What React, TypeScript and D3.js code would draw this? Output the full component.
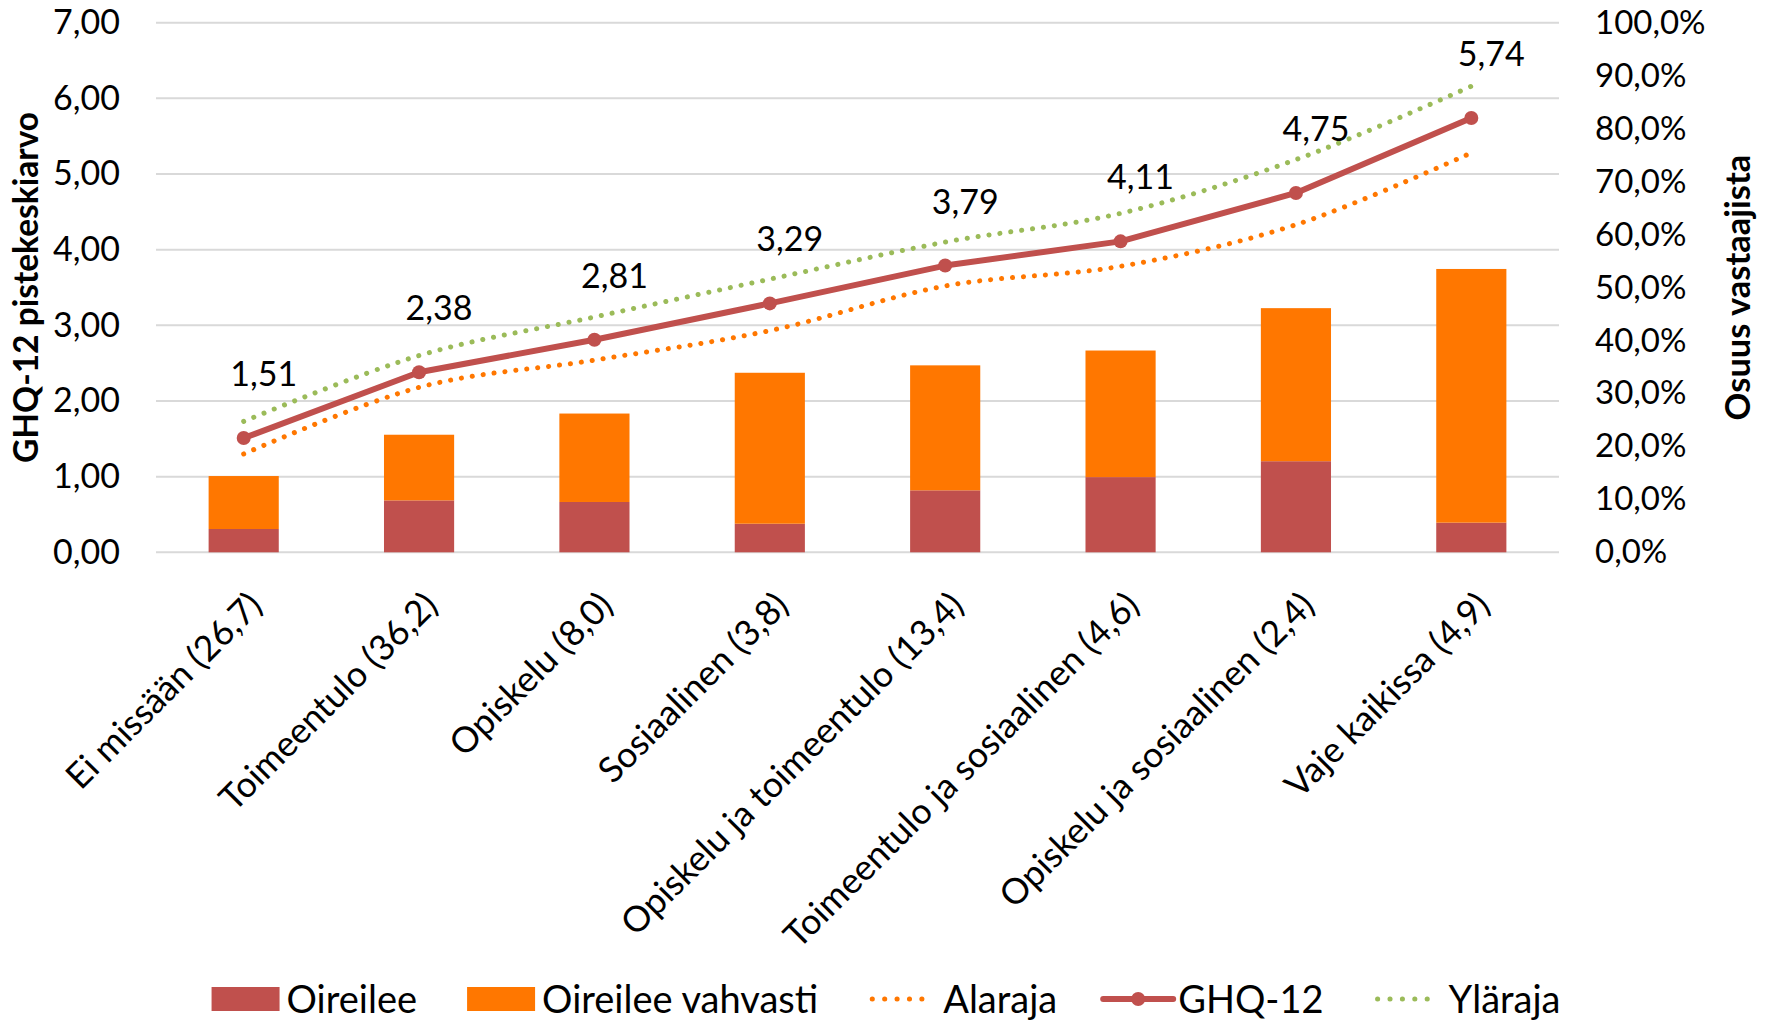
import React, { useRef, useEffect } from "react";
import * as d3 from "d3";

const categories = [
  "Ei missään (26,7)",
  "Toimeentulo (36,2)",
  "Opiskelu (8,0)",
  "Sosiaalinen (3,8)",
  "Opiskelu ja toimeentulo (13,4)",
  "Toimeentulo ja sosiaalinen (4,6)",
  "Opiskelu ja sosiaalinen (2,4)",
  "Vaje kaikissa (4,9)",
];
// osuudet (%) oikealla akselilla
const oireilee = [4.4, 9.8, 9.5, 5.4, 11.7, 14.2, 17.2, 5.6];
const oireileeVahvasti = [10.0, 12.4, 16.7, 28.5, 23.6, 23.9, 28.9, 47.9];
// pistekeskiarvot vasemmalla akselilla
const ghq12 = [1.51, 2.38, 2.81, 3.29, 3.79, 4.11, 4.75, 5.74];
const alaraja = [1.3, 2.18, 2.54, 2.93, 3.52, 3.78, 4.33, 5.28];
const ylaraja = [1.73, 2.6, 3.11, 3.61, 4.1, 4.48, 5.19, 6.16];
const leftTicks = [0, 1, 2, 3, 4, 5, 6, 7];
const rightTicks = [0, 10, 20, 30, 40, 50, 60, 70, 80, 90, 100];

const RED = "#C0504D";
const ORANGE = "#FF7700";
const GREEN = "#9BBB59";
const FONT = "Lato, 'Open Sans', sans-serif";

const fmt2 = (v) => v.toFixed(2).replace(".", ",");
const fmtPct = (v) => v.toFixed(1).replace(".", ",") + "%";

function App() {
  const ref = useRef(null);

  useEffect(() => {
    document.body.style.margin = "0";
    const width = 1771;
    const height = 1021;
    const left = 156;
    const right = 1559;
    const top = 22.7;
    const bottom = 552.3;

    const svg = d3.select(ref.current);
    svg.selectAll("*").remove();
    svg.attr("width", width).attr("height", height).style("font-family", FONT).style("display", "block");

    const x = d3
      .scaleBand()
      .domain(categories)
      .range([left, right])
      .paddingInner(0.6)
      .paddingOuter(0.3);
    const cx = (c) => x(c) + x.bandwidth() / 2;
    const yL = d3.scaleLinear().domain([0, 7]).range([bottom, top]);
    const yR = d3.scaleLinear().domain([0, 100]).range([bottom, top]);

    // ruudukko
    svg
      .append("g")
      .selectAll("line")
      .data(leftTicks)
      .enter()
      .append("line")
      .attr("x1", left)
      .attr("x2", right)
      .attr("y1", (d) => yL(d))
      .attr("y2", (d) => yL(d))
      .attr("stroke", "#D9D9D9")
      .attr("stroke-width", 2);

    // vasen akseli
    const gL = svg
      .append("g")
      .attr("transform", `translate(${left},0)`)
      .call(d3.axisLeft(yL).tickValues(leftTicks).tickSize(0).tickPadding(36).tickFormat(fmt2));
    gL.select(".domain").remove();
    gL.selectAll("text").style("font-size", "34px").style("font-family", FONT).attr("fill", "#000");

    // oikea akseli
    const gR = svg
      .append("g")
      .attr("transform", `translate(${right},0)`)
      .call(d3.axisRight(yR).tickValues(rightTicks).tickSize(0).tickPadding(36).tickFormat(fmtPct));
    gR.select(".domain").remove();
    gR.selectAll("text").style("font-size", "33px").style("font-family", FONT).attr("fill", "#000");

    // pinotut pylväät
    const rows = categories.map((c, i) => ({ c, a: oireilee[i], b: oireileeVahvasti[i] }));
    const stack = d3.stack().keys(["a", "b"])(rows);
    const colors = [RED, ORANGE];
    stack.forEach((layer, k) => {
      svg
        .append("g")
        .selectAll("rect")
        .data(layer)
        .enter()
        .append("rect")
        .attr("x", (d) => x(d.data.c))
        .attr("width", x.bandwidth())
        .attr("y", (d) => yR(d[1]))
        .attr("height", (d) => yR(d[0]) - yR(d[1]))
        .attr("fill", colors[k]);
    });

    // luottamusvälit
    const smooth = d3
      .line()
      .x((d, i) => cx(categories[i]))
      .y((d) => yL(d))
      .curve(d3.curveCardinal.tension(0));
    [
      [alaraja, ORANGE],
      [ylaraja, GREEN],
    ].forEach(([vals, col]) => {
      svg
        .append("path")
        .attr("d", smooth(vals))
        .attr("fill", "none")
        .attr("stroke", col)
        .attr("stroke-width", 5)
        .attr("stroke-linecap", "round")
        .attr("stroke-dasharray", "0.1 10.9");
    });

    // GHQ-12
    const line = d3
      .line()
      .x((d, i) => cx(categories[i]))
      .y((d) => yL(d));
    svg
      .append("path")
      .attr("d", line(ghq12))
      .attr("fill", "none")
      .attr("stroke", RED)
      .attr("stroke-width", 6)
      .attr("stroke-linejoin", "round");
    svg
      .append("g")
      .selectAll("circle")
      .data(ghq12)
      .enter()
      .append("circle")
      .attr("cx", (d, i) => cx(categories[i]))
      .attr("cy", (d) => yL(d))
      .attr("r", 7)
      .attr("fill", RED);

    // arvot
    svg
      .append("g")
      .selectAll("text")
      .data(ghq12)
      .enter()
      .append("text")
      .attr("x", (d, i) => cx(categories[i]) + 20)
      .attr("y", (d) => yL(d) - 52)
      .attr("text-anchor", "middle")
      .style("font-size", "34px")
      .attr("fill", "#000")
      .text(fmt2);

    // luokkien nimet
    svg
      .append("g")
      .selectAll("text")
      .data(categories)
      .enter()
      .append("text")
      .attr("transform", (d) => `translate(${cx(d) + 2},589) rotate(-45)`)
      .attr("text-anchor", "end")
      .attr("dy", "0.74em")
      .style("font-size", "35.5px")
      .attr("fill", "#000")
      .text((d) => d);

    // akselien otsikot
    svg
      .append("text")
      .attr("transform", `translate(25,${(top + bottom) / 2}) rotate(-90)`)
      .attr("text-anchor", "middle")
      .attr("dominant-baseline", "central")
      .style("font-size", "33.5px")
      .style("font-weight", "bold")
      .attr("fill", "#000")
      .text("GHQ-12 pistekeskiarvo");
    svg
      .append("text")
      .attr("transform", `translate(1736,${(top + bottom) / 2}) rotate(-90)`)
      .attr("text-anchor", "middle")
      .attr("dominant-baseline", "central")
      .style("font-size", "34.5px")
      .style("font-weight", "bold")
      .attr("fill", "#000")
      .text("Osuus vastaajista");

    // selite
    const legendItems = [
      { name: "Oireilee", type: "rect", color: RED },
      { name: "Oireilee vahvasti", type: "rect", color: ORANGE },
      { name: "Alaraja", type: "dot", color: ORANGE },
      { name: "GHQ-12", type: "line", color: RED },
      { name: "Yläraja", type: "dot", color: GREEN },
    ];
    const ly = 999;
    const legend = svg.append("g");
    const groups = legend
      .selectAll("g")
      .data(legendItems)
      .enter()
      .append("g");
    groups.each(function (d) {
      const g = d3.select(this);
      if (d.type === "rect") {
        g.append("rect").attr("x", 0).attr("y", ly - 12).attr("width", 68).attr("height", 24).attr("fill", d.color);
      } else if (d.type === "dot") {
        g.append("line")
          .attr("x1", 4)
          .attr("x2", 66)
          .attr("y1", ly)
          .attr("y2", ly)
          .attr("stroke", d.color)
          .attr("stroke-width", 5)
          .attr("stroke-linecap", "round")
          .attr("stroke-dasharray", "0.1 12.3");
      } else {
        g.append("line")
          .attr("x1", 0)
          .attr("x2", 70)
          .attr("y1", ly)
          .attr("y2", ly)
          .attr("stroke", d.color)
          .attr("stroke-width", 6)
          .attr("stroke-linecap", "round");
        g.append("circle").attr("cx", 35).attr("cy", ly).attr("r", 7).attr("fill", d.color);
      }
      g.append("text")
        .attr("x", 75)
        .attr("y", ly)
        .attr("dy", "0.36em")
        .style("font-size", "38px")
        .attr("fill", "#000")
        .text(d.name);
    });
    const widths = [];
    groups.each(function () {
      widths.push(this.getBBox().width);
    });
    const gap = 50;
    const total = d3.sum(widths) + gap * (widths.length - 1);
    let pos = (198 + 1570) / 2 - total / 2;
    groups.attr("transform", (d, i) => {
      const t = `translate(${pos},0)`;
      pos += widths[i] + gap;
      return t;
    });
  }, []);

  return <svg ref={ref}></svg>;
}

export default App;
